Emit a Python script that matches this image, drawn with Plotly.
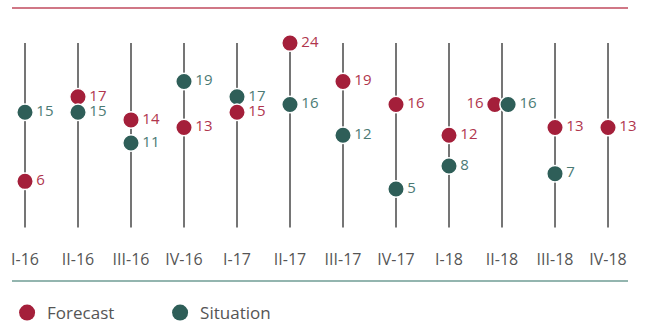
import plotly.graph_objects as go

# Quarterly categories and the two series
quarters = ["I-16", "II-16", "III-16", "IV-16", "I-17", "II-17",
            "III-17", "IV-17", "I-18", "II-18", "III-18", "IV-18"]
forecast = [6, 17, 14, 13, 15, 24, 19, 16, 12, 16, 13, 13]
situation = [15, 15, 11, 19, 17, 16, 12, 5, 8, 16, 7, None]

RED = "#A41F3A"
TEAL = "#2E5E58"
RED_TXT = "#B0364E"
TEAL_TXT = "#4B7A74"
FONT = "Open Sans"

idx = list(range(len(quarters)))
stem_top = max(v for v in forecast + situation if v is not None)

# Vertical guide stems from 0 up to the highest value
stem_x, stem_y = [], []
for i in idx:
    stem_x += [i, i, None]
    stem_y += [0, stem_top, None]

# Collect points; ties are nudged apart horizontally
pts = []
for i in idx:
    f, s = forecast[i], situation[i]
    tie = f is not None and s is not None and f == s
    if f is not None:
        pts.append((i - 0.135 if tie else i, f, RED, RED_TXT,
                    "middle left" if tie else "middle right"))
    if s is not None:
        pts.append((i + 0.115 if tie else i, s, TEAL, TEAL_TXT, "middle right"))
# lower markers are painted over higher ones
pts.sort(key=lambda p: -p[1])

fig = go.Figure()
fig.add_trace(go.Scatter(
    x=stem_x, y=stem_y, mode="lines",
    line=dict(color="#2b2b2b", width=1.3),
    hoverinfo="skip", showlegend=False))
fig.add_trace(go.Scatter(
    x=[p[0] for p in pts], y=[p[1] for p in pts],
    mode="markers+text",
    marker=dict(size=16.5, color=[p[2] for p in pts],
                line=dict(color="white", width=1.5)),
    text=[str(p[1]) for p in pts],
    textposition=[p[4] for p in pts],
    textfont=dict(family=FONT, size=15, color=[p[3] for p in pts]),
    showlegend=False, cliponaxis=False))

# Legend entries
for name, col in [("Forecast", RED), ("Situation", TEAL)]:
    fig.add_trace(go.Scatter(
        x=[None], y=[None], mode="markers", name=name,
        marker=dict(size=18, color=col)))

fig.update_layout(
    width=645, height=325,
    margin=dict(l=0, r=0, t=0, b=77, autoexpand=False),
    paper_bgcolor="white", plot_bgcolor="white",
    font=dict(family=FONT, color="#555555"),
    xaxis=dict(range=[-0.4717, 11.698], tickvals=idx, ticktext=quarters,
               showgrid=False, zeroline=False, showline=False,
               tickfont=dict(size=16, color="#555555"), fixedrange=True),
    yaxis=dict(range=[-2.68, 29.61], visible=False, fixedrange=True),
    legend=dict(orientation="h", x=0.011, xanchor="left",
                yref="container", y=1 - 313 / 325, yanchor="middle",
                font=dict(size=17, color="#555555"),
                entrywidth=108, entrywidthmode="pixels",
                itemsizing="trace"),
    shapes=[
        dict(type="line", xref="paper", yref="paper",
             x0=12 / 645, x1=628 / 645, y0=1 - 8 / 248, y1=1 - 8 / 248,
             line=dict(color="#C04A5E", width=1.5)),
        dict(type="line", xref="paper", yref="paper",
             x0=12 / 645, x1=628 / 645, y0=1 - 281 / 248, y1=1 - 281 / 248,
             line=dict(color="#6F9C95", width=1.5)),
    ],
)

fig.write_html("out.html", config={"displayModeBar": False})
